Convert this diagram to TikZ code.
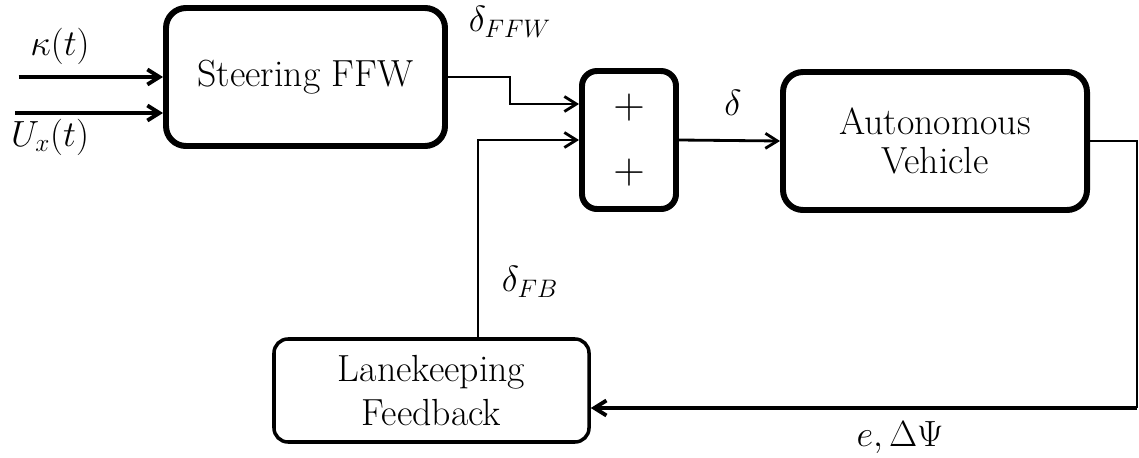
\documentclass[tikz,border=0pt]{standalone}
\usetikzlibrary{arrows.meta}
\tikzset{
  bloque/.style={draw, rounded corners=0.4cm, line width=3.4pt, align=center,
    font=\fontsize{21.5}{22}\selectfont},
  flecha/.style={-{Straight Barb[length=0.24cm,width=0.3cm]}, line width=2.2pt},
  etiqueta/.style={font=\fontsize{20}{22}\selectfont}
}
\begin{document}
\begin{tikzpicture}
    \useasboundingbox (0,0) rectangle (22.78,9.14);

    % Bloques
    \node[bloque, minimum width=5.58cm, minimum height=2.76cm] (steer) at (6.11,7.6) {Steering FFW};
    \node[bloque, rounded corners=0.3cm, minimum width=1.88cm, minimum height=2.76cm,
      font=\fontsize{26}{30}\selectfont] (suma) at (12.58,6.34) {$+$\\[0.26cm]$+$};
    \node[bloque, minimum width=6.08cm, minimum height=2.76cm] (auto) at (18.70,6.32) {Autonomous\\Vehicle};
    \node[bloque, rounded corners=0.28cm, line width=2pt, minimum width=6.3cm, minimum height=2.06cm,
      font=\fontsize{21.5}{25}\selectfont] (lane) at (8.63,1.33) {Lanekeeping\\Feedback};

    % Entradas
    \coordinate (kin) at (0.37,7.6);
    \coordinate (uin) at (0.3,6.88);
    \draw[flecha] (kin) -- (steer.west);
    \draw[flecha] (uin) -- (uin -| steer.west);

    % Lazo directo
    \coordinate (codo) at (10.2,7.06);
    \draw[flecha, line width=1.6pt] (steer.east) -| (codo) -- (codo -| suma.west);
    \draw[flecha, line width=1.6pt] (suma.east) -- (auto.west);

    % Realimentacion
    \coordinate (fb) at (9.56,6.34);
    \draw[flecha, line width=1.6pt] (fb |- lane.north) -- (fb) -- (suma.west);
    \coordinate (esq) at (22.74,0.98);
    \draw[line width=1.1pt] (auto.east) -| (esq);
    \draw[flecha] (esq) -- (esq -| lane.east);

    % Etiquetas
    \node[etiqueta, font=\fontsize{21}{22}\selectfont] (lkappa) at (1.2,8.22) {$\kappa(t)$};
    \node[etiqueta, font=\fontsize{21}{22}\selectfont] (lux) at (1.0,6.4) {$U_x(t)$};
    \node[etiqueta] (lffw) at (10.2,8.7) {$\delta_{FFW}$};
    \node[etiqueta] (ldelta) at (14.66,7.08) {$\delta$};
    \node[etiqueta] (lfb) at (10.6,3.5) {$\delta_{FB}$};
    \node[etiqueta] (lerr) at (18.0,0.38) {$e,\Delta\Psi$};
\end{tikzpicture}
\end{document}
